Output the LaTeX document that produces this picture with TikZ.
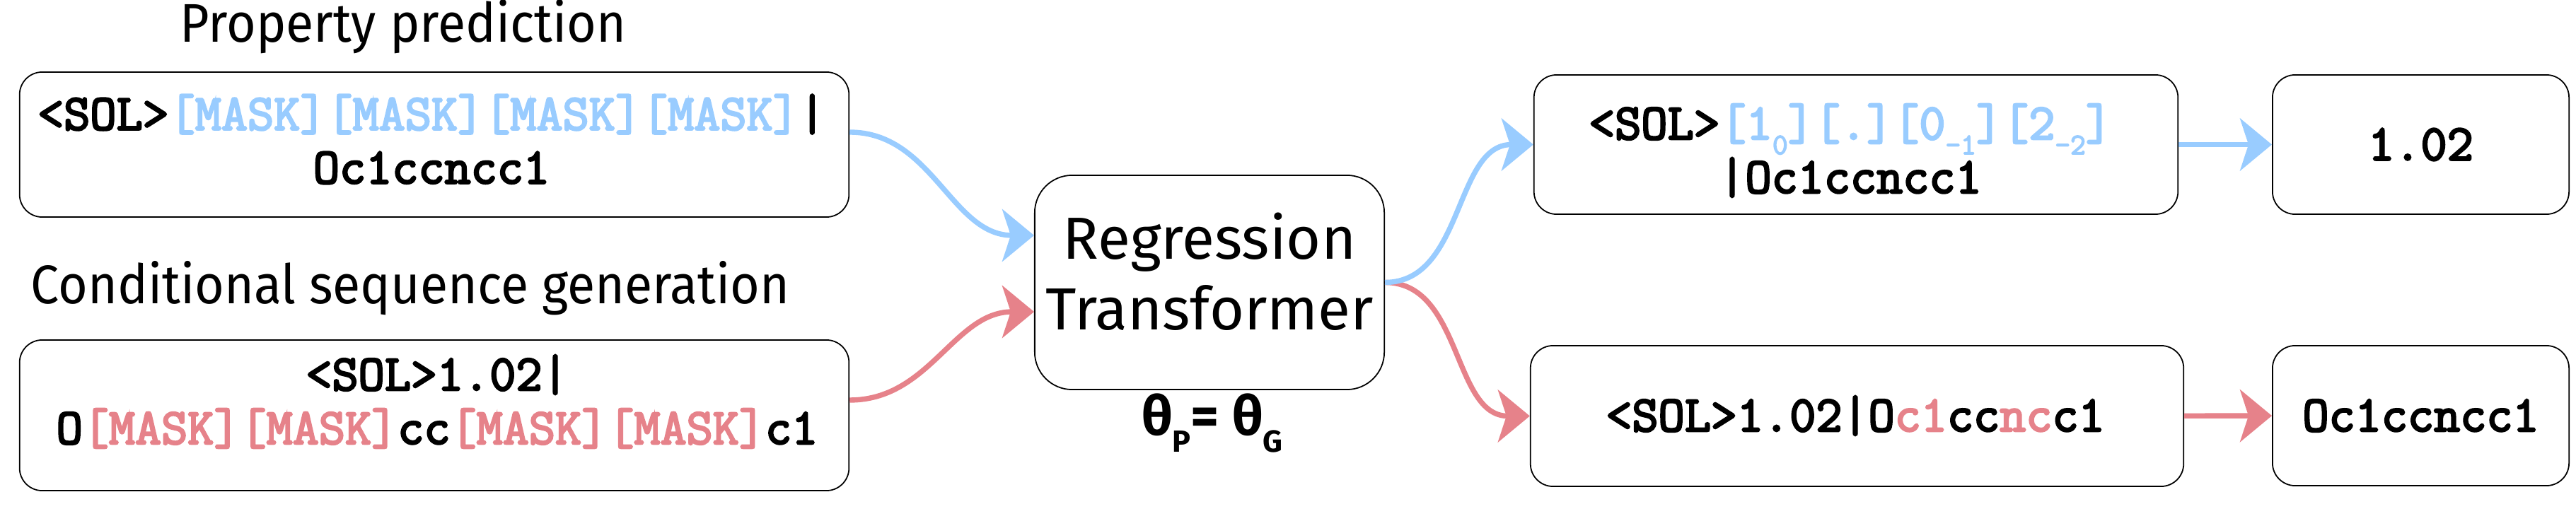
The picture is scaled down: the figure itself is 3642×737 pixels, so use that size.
\documentclass[tikz,border=0pt]{standalone}
\usepackage{fontspec}
\setmainfont{Fira Sans}
\setmonofont{Latin Modern Mono}[FakeBold=3.6]
\newfontfamily\titlefont{Fira Sans}[FakeStretch=0.93]
\usetikzlibrary{arrows.meta}
\definecolor{rtblue}{RGB}{153,204,255}
\definecolor{rtred}{RGB}{230,130,138}
\newcommand{\tokb}[1]{\textcolor{rtblue}{#1}}
\newcommand{\tokr}[1]{\textcolor{rtred}{#1}}
\newcommand{\lowsub}[1]{\raisebox{-7pt}{\fontsize{12.3}{13}\selectfont #1}}
\newcommand{\lowtok}[1]{\raisebox{-6pt}{\fontsize{12}{13}\selectfont #1}}

\begin{document}
\begin{tikzpicture}[x=0.01cm, y=-0.01cm,
	box/.style={draw, line width=0.5pt, rounded corners=0.32cm, inner sep=0pt},
	seq/.style={font=\ttfamily\fontsize{20.5}{21.6}\selectfont, align=center, inner sep=0pt},
	title/.style={font=\titlefont\fontsize{21.9}{26}\selectfont, inner sep=0pt, anchor=base},
	flow/.style={line width=2.1pt, -{Stealth[length=0.45cm, width=0.74cm, inset=0.12cm]}}]
	\useasboundingbox (0,0) rectangle (3642,737);
	% inputs
	\node[title] (proptitle) at (570,60) {Property prediction};
	\node[box, minimum width=11.72cm, minimum height=2.05cm] (prop) at (614,204.5) {};
	\node[seq] (propseq) at (610,197) {<SOL>\tokb{[MASK][MASK][MASK][MASK]}|\\Oc1ccncc1};
	\node[title] (condtitle) at (580,430) {Conditional sequence generation};
	\node[box, minimum width=11.72cm, minimum height=2.13cm] (cond) at (614,587.5) {};
	\node[seq] (condseq) at (618,568) {<SOL>1.02|\\O\tokr{[MASK][MASK]}cc\tokr{[MASK][MASK]}c1};
	% model
	\node[box, rounded corners=0.53cm, minimum width=4.94cm, minimum height=3.03cm] (rt) at (1710,399.5) {};
	\node[align=center, inner sep=0pt, font=\fontsize{23.9}{28.45}\selectfont] (rtname) at (1710,384) {Regression\\Transformer};
	\node[anchor=base, inner sep=0pt, font=\bfseries\fontsize{22}{26}\selectfont] (theta) at (1714,615) {θ\lowsub{P}= θ\lowsub{G}};
	% outputs
	\node[box, minimum width=9.10cm, minimum height=1.97cm] (pred) at (2624,204.5) {};
	\node[seq] (predseq) at (2616,213) {<SOL>\tokb{[1\lowtok{0}][.][0\lowtok{-1}][2\lowtok{-2}]}\\|Oc1ccncc1};
	\node[box, seq, minimum width=4.19cm, minimum height=1.97cm] (value) at (3422.5,204.5) {1.02};
	\node[box, minimum width=9.23cm, minimum height=1.99cm] (gen) at (2625.5,588.5) {};
	\node[seq] (genseq) at (2623,588) {<SOL>1.02|O\tokr{c1}cc\tokr{nc}c1};
	\node[box, seq, minimum width=4.19cm, minimum height=1.98cm] (mol) at (3422.5,588) {Oc1ccncc1};
	% connectors
	\draw[flow, rtblue] ([yshift=0.175cm]prop.east) to[out=0, in=180] ([yshift=0.665cm]rt.west);
	\draw[flow, rtred] ([yshift=0.215cm]cond.east) to[out=0, in=180] ([yshift=-0.415cm]rt.west);
	\draw[flow, rtred] (rt.east) to[out=0, in=180] (gen.west);
	\draw[flow, rtblue] (rt.east) to[out=0, in=180] (pred.west);
	\draw[flow, rtblue] (pred) -- (value);
	\draw[flow, rtred] (gen) -- (mol);
\end{tikzpicture}
\end{document}
